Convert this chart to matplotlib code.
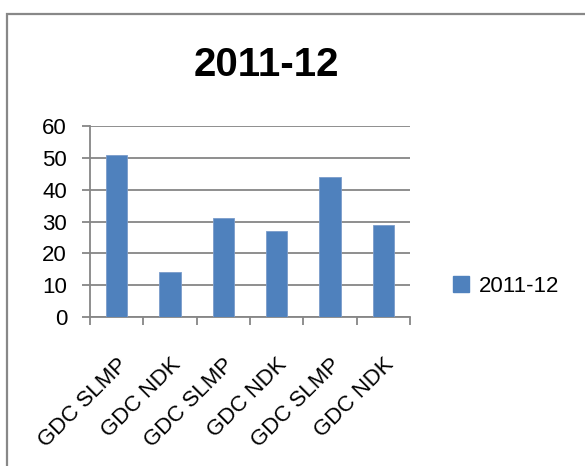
import matplotlib
matplotlib.use('Agg')
import matplotlib.pyplot as plt
import matplotlib.patches as mpatches
import numpy as np

# ── data ──────────────────────────────────────────────
categories = ['GDC SLMP', 'GDC NDK', 'GDC SLMP', 'GDC NDK', 'GDC SLMP', 'GDC NDK']
values     = [51, 14, 31, 27, 44, 29]
series     = '2011-12'
yticks     = [0, 10, 20, 30, 40, 50, 60]

BAR   = '#4F81BD'
GRID  = '#868686'
FRAME = '#888888'
FS    = 16

plt.rcParams['font.family'] = ['Liberation Sans', 'DejaVu Sans']

fig = plt.figure(figsize=(5.85, 4.66), dpi=100, facecolor='white')
ax = fig.add_axes([0.1538, 0.3197, 0.5471, 0.4099])

x = np.arange(len(categories))
ax.bar(x, values, width=0.4, color=BAR, edgecolor='#7A9CCB', linewidth=0.6,
       zorder=3, label=series)

ax.set_xlim(-0.5, len(categories) - 0.5)
ax.set_ylim(0, 60)
ax.set_yticks(yticks)
ax.set_yticklabels([str(v) for v in yticks], fontsize=FS)
ax.yaxis.grid(True, color=GRID, lw=1.3, zorder=0)
ax.tick_params(axis='y', length=5.5, width=1.3, color=GRID, pad=11)

# category boundaries as x ticks, labels at centres
ax.set_xticks(np.arange(-0.5, len(categories)), minor=False)
ax.set_xticklabels([])
ax.set_xticks(x, minor=True)
ax.set_xticklabels(categories, minor=True, rotation=45, ha='right',
                   va='top', rotation_mode='anchor', fontsize=FS)
ax.tick_params(axis='x', which='major', length=6, width=1.3, color=GRID)
ax.tick_params(axis='x', which='minor', length=0, pad=27)

for side in ['top', 'right']:
    ax.spines[side].set_visible(False)
for side in ['left', 'bottom']:
    ax.spines[side].set_color(GRID)
    ax.spines[side].set_linewidth(1.3)

fig.text(0.456, 0.86, series, ha='center', va='center',
         fontsize=29, fontweight='bold')

leg = fig.legend(handles=[mpatches.Patch(color=BAR, label=series)],
                 loc='center left', bbox_to_anchor=(0.775, 0.386),
                 frameon=False, fontsize=FS, handlelength=0.7,
                 handleheight=0.7, handletextpad=0.45, borderpad=0,
                 borderaxespad=0)

# outer chart frame (runs off right and bottom)
fig.patches.append(mpatches.Rectangle((0.012, -0.05), 1.1, 1.02,
                                      transform=fig.transFigure,
                                      fill=False, edgecolor=FRAME, lw=1.6))

plt.savefig('out.png', dpi=100, facecolor='white')
